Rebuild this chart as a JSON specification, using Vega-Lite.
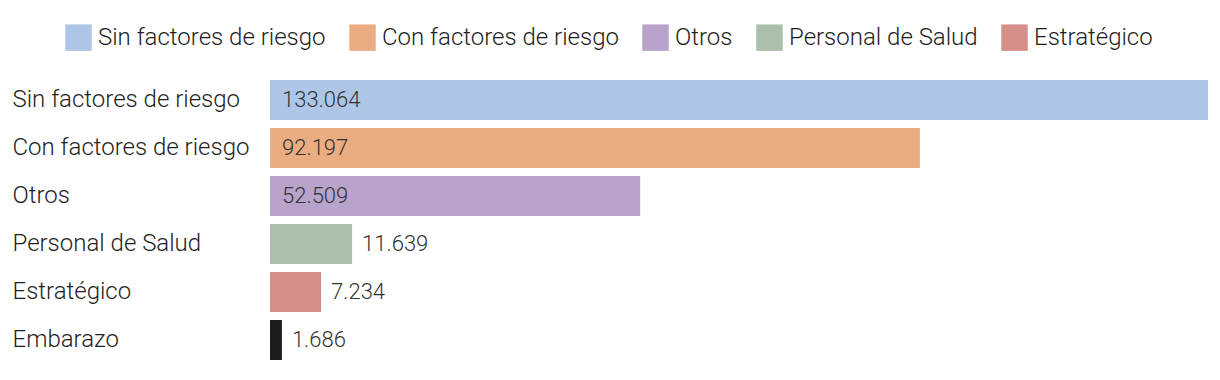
{
  "$schema": "https://vega.github.io/schema/vega-lite/v6.json",
  "autosize": {"type": "none"},
  "width": 938,
  "height": 288,
  "padding": {"left": 270, "top": 76, "right": 12, "bottom": 16},
  "background": "#ffffff",
  "config": {
    "view": {"stroke": null},
    "font": "Roboto"
  },
  "data": {
    "values": [
      {"categoria": "Sin factores de riesgo", "valor": 133064, "texto": "133.064"},
      {"categoria": "Con factores de riesgo", "valor": 92197, "texto": "92.197"},
      {"categoria": "Otros", "valor": 52509, "texto": "52.509"},
      {"categoria": "Personal de Salud", "valor": 11639, "texto": "11.639"},
      {"categoria": "Estratégico", "valor": 7234, "texto": "7.234"},
      {"categoria": "Embarazo", "valor": 1686, "texto": "1.686"}
    ]
  },
  "encoding": {
    "y": {
      "field": "categoria",
      "type": "nominal",
      "sort": null,
      "scale": {"paddingInner": 0.1667, "paddingOuter": 0.0833},
      "axis": {
        "title": null,
        "domain": false,
        "ticks": false,
        "tickSize": 0,
        "labelAlign": "left",
        "labelPadding": 258,
        "labelFont": "Roboto",
        "labelFontWeight": 300,
        "labelFontSize": 24,
        "labelColor": "#1e1e1e",
        "labelLimit": 300
      }
    }
  },
  "layer": [
    {
      "mark": {"type": "bar"},
      "encoding": {
        "x": {
          "field": "valor",
          "type": "quantitative",
          "scale": {"domain": [0, 133064], "nice": false, "zero": true},
          "axis": null
        },
        "color": {
          "field": "categoria",
          "type": "nominal",
          "scale": {
            "domain": ["Sin factores de riesgo", "Con factores de riesgo", "Otros", "Personal de Salud", "Estratégico", "Embarazo"],
            "range": ["#adc5e6", "#ebac81", "#baa3cb", "#abbfab", "#d68e88", "#1c1c1c"]
          },
          "legend": {
            "values": ["Sin factores de riesgo", "Con factores de riesgo", "Otros", "Personal de Salud", "Estratégico"],
            "title": null,
            "orient": "none",
            "direction": "horizontal",
            "legendX": -205,
            "legendY": -52,
            "symbolType": "square",
            "symbolSize": 700,
            "symbolStrokeWidth": 0,
            "symbolOpacity": 1,
            "labelFont": "Roboto",
            "labelFontWeight": 300,
            "labelFontSize": 24,
            "labelColor": "#1e1e1e",
            "labelOffset": 6,
            "columnPadding": 23,
            "labelLimit": 400
          }
        }
      }
    },
    {
      "transform": [{"filter": "datum.valor > 30000"}],
      "mark": {"type": "text", "align": "left", "baseline": "middle", "dx": 12, "font": "Roboto", "fontWeight": 300, "fontSize": 22, "color": "#333333"},
      "encoding": {
        "x": {"datum": 0, "type": "quantitative"},
        "text": {"field": "texto"}
      }
    },
    {
      "transform": [{"filter": "datum.valor <= 30000"}],
      "mark": {"type": "text", "align": "left", "baseline": "middle", "dx": 10, "font": "Roboto", "fontWeight": 300, "fontSize": 22, "color": "#333333"},
      "encoding": {
        "x": {"field": "valor", "type": "quantitative"},
        "text": {"field": "texto"}
      }
    }
  ]
}
